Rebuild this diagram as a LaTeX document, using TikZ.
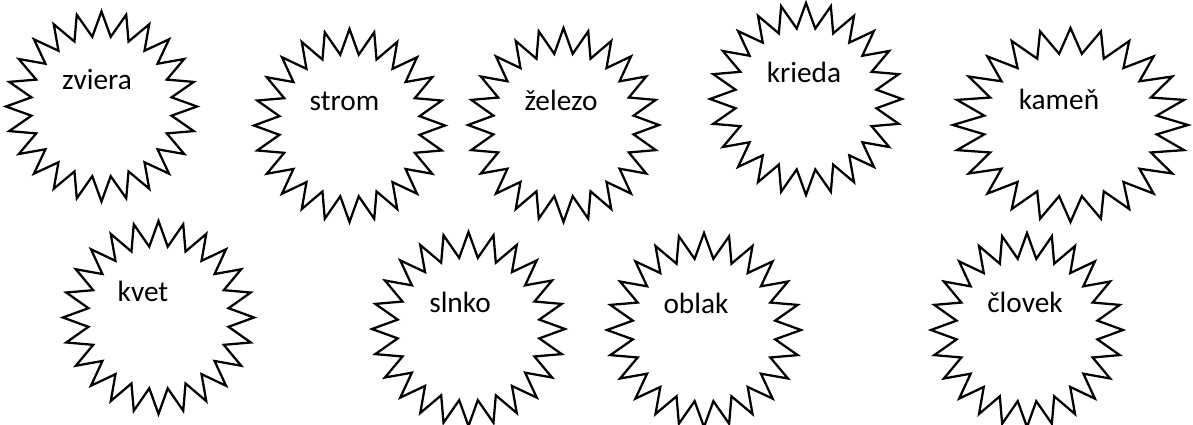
\documentclass[tikz,border=0pt]{standalone}
\usepackage{fontspec}
\setmainfont{Carlito}
\tikzset{
  starline/.style={draw=black, line width=1.7pt, line join=miter, fill=white},
  word/.style={anchor=base, inner sep=0pt, font=\fontsize{22pt}{26pt}\selectfont}
}
\newcommand\zigstar[4]{%
  \draw[starline] plot[samples=48, domain=0:47, variable=\i]
    ({#1+#3*(1-0.26*mod(\i,2))*cos(90+7.5*\i)},{#2+#4*(1-0.26*mod(\i,2))*sin(90+7.5*\i)}) -- cycle;}
\begin{document}
\begin{tikzpicture}[x=0.75pt, y=-0.75pt]
\useasboundingbox (0,0) rectangle (1193,425);
% stars
\zigstar{101.5}{106.5}{95.5}{95}
\zigstar{349.5}{125.5}{95.5}{96.5}
\zigstar{563.5}{125}{95.5}{97}
\zigstar{806}{99}{96}{96}
\zigstar{1070.5}{125}{117.5}{97}
\zigstar{158.5}{317.5}{95.5}{96.5}
\zigstar{468.5}{329}{96.5}{97}
\zigstar{704}{330}{97}{97}
\zigstar{1027}{330}{96}{97}
% words
\node[word] (zviera) at (97,89) {zviera};
\node[word] (strom) at (344.5,110) {strom};
\node[word] (zelezo) at (561,110) {železo};
\node[word] (krieda) at (804,82) {krieda};
\node[word] (kamen) at (1059,109) {kameň};
\node[word] (kvet) at (143,301) {kvet};
\node[word] (slnko) at (460,312) {slnko};
\node[word] (oblak) at (696,313) {oblak};
\node[word] (clovek) at (1025,312) {človek};
\end{tikzpicture}
\end{document}
